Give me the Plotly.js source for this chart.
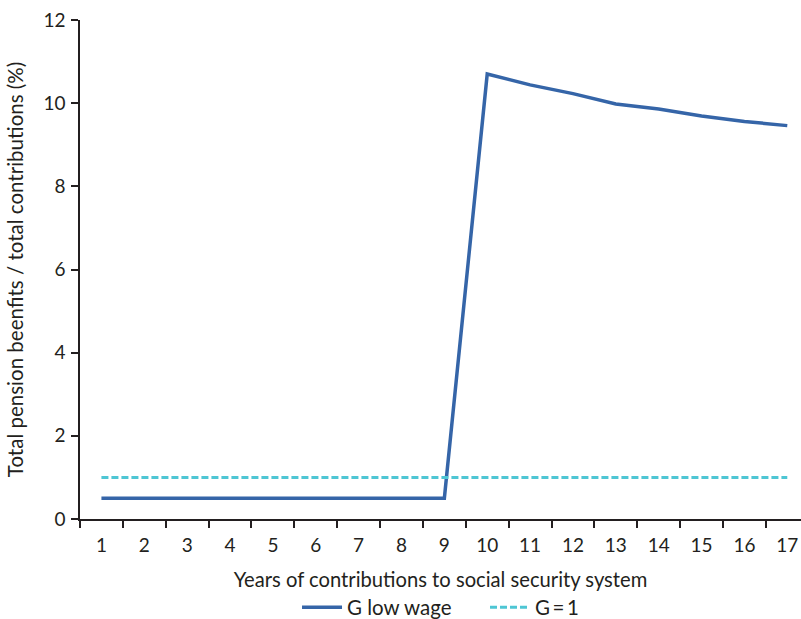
<!DOCTYPE html>
<html>
<head>
<meta charset="utf-8">
<script src="https://cdn.plot.ly/plotly-3.0.1.min.js"></script>
<style>html,body{margin:0;padding:0;background:#fff}#chart{width:801px;height:619px}</style>
</head>
<body>
<div id="chart"></div>
<script>
const years = ["1","2","3","4","5","6","7","8","9","10","11","12","13","14","15","16","17"];
const gLowWage = [0.5,0.5,0.5,0.5,0.5,0.5,0.5,0.5,0.5,10.7,10.44,10.23,9.98,9.86,9.69,9.56,9.46];
const gOne = [1,1,1,1,1,1,1,1,1,1,1,1,1,1,1,1,1];
const yTicks = [0,2,4,6,8,10,12];

const font = "Lato, 'Open Sans', sans-serif";
const traces = [
  {x: years, y: gLowWage, type: 'scatter', mode: 'lines', name: 'G low wage',
   line: {color: '#3565a8', width: 3.5}},
  {x: years, y: gOne, type: 'scatter', mode: 'lines', name: 'G\u2009=\u20091',
   line: {color: '#4ec6d4', width: 3, dash: '7px,3px'}}
];
const layout = {
  width: 801, height: 619,
  margin: {l: 80, r: 0, t: 20, b: 100, autoexpand: false},
  paper_bgcolor: '#fff', plot_bgcolor: '#fff',
  font: {family: font, color: '#231f20', size: 19},
  showlegend: true,
  legend: {orientation: 'h', x: 0.301, xanchor: 'left', y: -0.137, yanchor: 'top',
           itemwidth: 40, entrywidth: 133,
           font: {size: 20.5, family: font, color: '#231f20'}},
  xaxis: {type: 'category', range: [-0.5, 16.32], tickson: 'boundaries',
          showline: true, linecolor: '#231f20', linewidth: 1.5,
          ticks: 'outside', ticklen: 7, tickcolor: '#231f20', tickwidth: 1.5,
          showgrid: false, zeroline: false, tickfont: {size: 19}, ticklabelstandoff: 8,
          automargin: false,
          title: {text: 'Years of contributions to social security system', font: {size: 20.2}, standoff: 18}},
  yaxis: {range: [0, 12], tickvals: yTicks, showline: true, linecolor: '#231f20', linewidth: 1.5,
          ticks: 'outside', ticklen: 7, tickcolor: '#231f20', tickwidth: 1.5,
          showgrid: false, zeroline: false, tickfont: {size: 19}, ticklabelstandoff: 2,
          automargin: false,
          title: {text: 'Total pension beenfits / total contributions (%)', font: {size: 20.5}, standoff: 14}}
};
Plotly.newPlot('chart', traces, layout, {displayModeBar: false});
</script>
</body>
</html>
